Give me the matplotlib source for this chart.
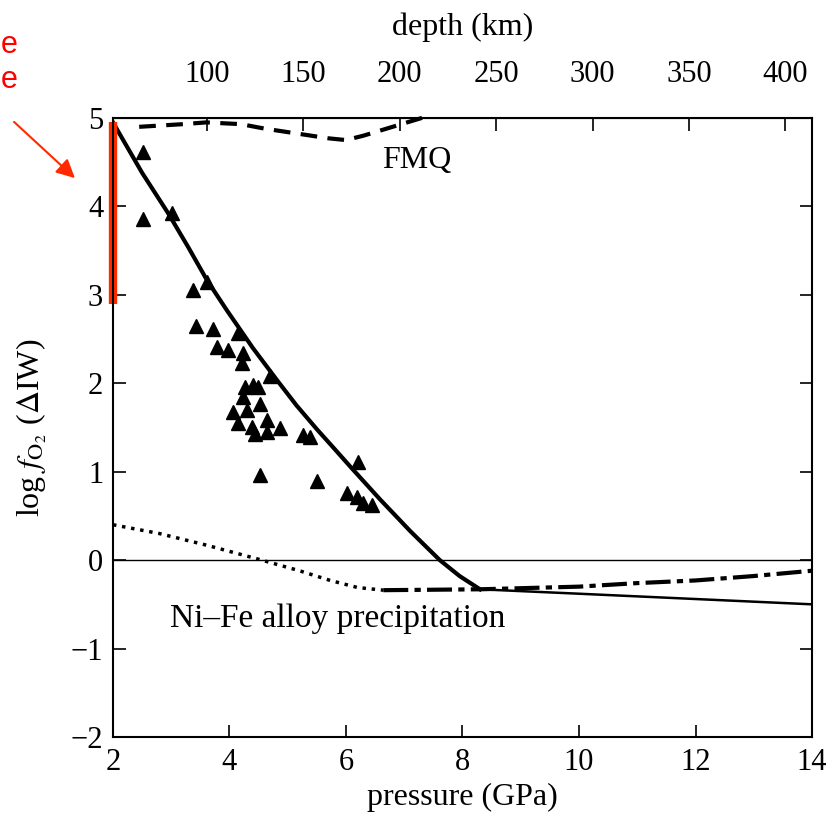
import numpy as np
import matplotlib
matplotlib.use('Agg')
import matplotlib.pyplot as plt

plt.rcParams['font.family'] = ['Liberation Serif', 'DejaVu Serif']
plt.rcParams['mathtext.fontset'] = 'stix'

# solid model curve (steep branch, then flat branch)
p_solid = [2.0, 2.5, 2.95, 3.3, 3.61, 3.95, 4.4, 4.81, 5.15, 5.5, 5.8, 6.07, 6.58, 7.1, 7.61, 7.95, 8.3]
f_solid = [4.95, 4.38, 3.92, 3.53, 3.17, 2.83, 2.40, 2.04, 1.75, 1.48, 1.26, 1.06, 0.69, 0.33, 0.0, -0.18, -0.33]
p_flat = [8.3, 10.0, 12.0, 14.0]
f_flat = [-0.33, -0.38, -0.44, -0.50]

# Ni-Fe alloy precipitation curve
p_dot = [2.0, 2.8, 3.6, 4.5, 5.2, 5.73, 6.2, 6.64]
f_dot = [0.40, 0.30, 0.17, 0.01, -0.12, -0.23, -0.31, -0.34]
p_dd = [6.64, 8.3, 10.0, 11.0, 12.0, 13.0, 14.0]
f_dd = [-0.34, -0.33, -0.30, -0.26, -0.23, -0.18, -0.12]

# FMQ buffer
p_fmq = [2.45, 3.2, 3.6, 4.2, 4.6, 5.2, 5.7, 6.0, 6.3, 6.8, 7.4]
f_fmq = [4.90, 4.93, 4.95, 4.93, 4.88, 4.82, 4.77, 4.75, 4.80, 4.90, 5.02]

# measurements
p_obs = [2.52, 2.52, 3.01, 3.37, 3.61, 3.42, 3.72, 4.15, 3.79, 3.97, 4.23, 4.21,
         4.70, 4.27, 4.41, 4.49, 4.23, 4.52, 4.06, 4.30, 4.15, 4.39, 4.64, 4.44,
         4.64, 4.87, 5.26, 5.38, 6.21, 4.52, 5.50, 6.01, 6.19, 6.30, 6.45]
f_obs = [4.62, 3.86, 3.92, 3.05, 3.14, 2.65, 2.61, 2.57, 2.41, 2.38, 2.34, 2.23,
         2.08, 1.96, 1.98, 1.96, 1.84, 1.77, 1.67, 1.70, 1.55, 1.50, 1.58, 1.43,
         1.45, 1.49, 1.41, 1.39, 1.11, 0.96, 0.90, 0.76, 0.71, 0.65, 0.62]

fig = plt.figure(figsize=(8.27, 8.25), dpi=100)
ax = fig.add_axes([0.1366, 0.1067, 0.8453, 0.7503])

ax.axhline(0, color='black', lw=1.0)
ax.plot(p_solid, f_solid, '-', color='black', lw=3.0)
ax.plot(p_flat, f_flat, '-', color='black', lw=1.8)
ax.plot(p_dot, f_dot, ':', color='black', lw=2.5)
ax.plot(p_dd, f_dd, '-.', color='black', lw=3.0, dashes=(6, 1.5, 1.5, 1.5))
ax.plot(p_fmq, f_fmq, '--', color='black', lw=3.0, dashes=(4, 2.5), clip_on=False)
ax.plot(p_obs, f_obs, '^', color='black', ms=10, ls='none')

# red bar at the surface
ax.plot([2.0, 2.0], [2.9, 4.95], '-', color='#ff2a00', lw=6, clip_on=False,
        solid_capstyle='butt')

ax.text(7.22, 4.52, 'FMQ', fontsize=23, ha='center', va='center')
ax.text(2.98, -0.66, 'Ni\u2013Fe alloy precipitation', fontsize=24, ha='left', va='center')

ax.set_xlim(2, 14)
ax.set_ylim(-2, 5)
ax.set_xticks(np.arange(2, 15, 2))
ax.set_yticks(np.arange(-2, 6, 1))
ax.set_xlabel('pressure (GPa)', fontsize=23, labelpad=4)
ax.set_ylabel(r'log $f_{\mathrm{O}_2}$ ($\Delta$IW)', fontsize=23, labelpad=16)
ax.tick_params(direction='in', length=9, width=1.2, labelsize=22, right=True)
ax.tick_params(axis='x', pad=8)
ax.tick_params(axis='y', pad=7)
for s in ax.spines.values():
    s.set_linewidth(1.5)

top = ax.secondary_xaxis('top', functions=(lambda p: 30.2 * p - 9.0,
                                            lambda d: (d + 9.0) / 30.2))
top.set_xticks(np.arange(100, 401, 50))
top.set_xlabel('depth (km)', fontsize=23, labelpad=18)
top.tick_params(direction='in', length=9, width=1.2, labelsize=22, pad=21)

# red annotation at the left edge
fig.text(0.001, 0.945, 'e', color='red', fontsize=22, ha='left', va='center',
         family='Liberation Sans')
fig.text(0.001, 0.903, 'e', color='red', fontsize=22, ha='left', va='center',
         family='Liberation Sans')
fig.add_artist(matplotlib.patches.FancyArrowPatch(
    (12 / 827, 1 - 120 / 825), (77 / 827, 1 - 180 / 825),
    transform=fig.transFigure, arrowstyle='-|>', mutation_scale=28,
    color='#ff2a00', lw=1.5))

fig.savefig('out.png', dpi=100)
